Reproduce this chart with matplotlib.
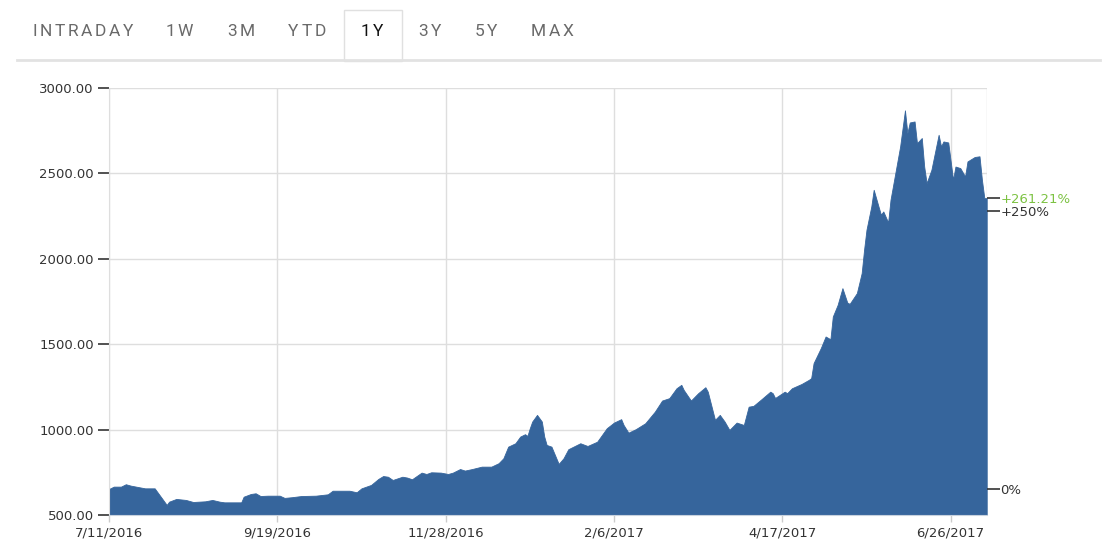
import pandas as pd
import numpy as np
import matplotlib.pyplot as plt
import matplotlib.dates as mdates
from matplotlib.ticker import FuncFormatter
from matplotlib.patches import Rectangle
from matplotlib.lines import Line2D

# -------------------------- data --------------------------
start_date = '2016-07-11'
day_offsets = [
    0, 2, 5, 7, 9, 12, 15, 19, 22, 24, 25, 28, 32, 35, 40, 43, 46, 48, 55, 56,
    59, 61, 63, 66, 71, 73, 76, 80, 86, 91, 93, 100, 103, 105, 109, 112, 114, 116,
    118, 122, 124, 126, 130, 132, 134, 138, 141, 143, 146, 148, 151, 155, 159, 162,
    164, 166, 169, 171, 173, 174, 175, 176, 178, 180, 181, 182, 184, 187, 189, 191,
    196, 199, 203, 207, 210, 213, 214, 216, 219, 223, 227, 230, 233, 236, 238, 239,
    242, 245, 248, 249, 252, 254, 256, 258, 261, 264, 266, 268, 271, 275, 276, 277,
    281, 282, 284, 288, 291, 292, 293, 296, 298, 300, 301, 303, 305, 307, 308, 311,
    313, 314, 315, 317, 318, 320, 321, 322, 324, 325, 327, 329, 331, 332, 333, 335,
    336, 338, 339, 340, 342, 345, 346, 347, 349, 351, 352, 354, 356, 357, 360, 362,
    363, 364, 365,
]
prices = [
    652, 666, 666, 680, 672, 664, 656, 656, 598, 559, 578, 594, 588, 576, 580, 588,
    578, 574, 574, 607, 623, 627, 611, 613, 613, 600, 604, 611, 613, 621, 642, 642,
    633, 656, 676, 711, 728, 724, 705, 724, 719, 709, 748, 740, 750, 748, 740, 748,
    769, 760, 769, 783, 783, 803, 832, 900, 920, 959, 973, 963, 1008, 1047, 1086,
    1047, 959, 910, 900, 799, 832, 885, 920, 904, 929, 1008, 1041, 1061, 1027, 982,
    1002, 1037, 1105, 1170, 1184, 1242, 1262, 1232, 1170, 1213, 1248, 1222, 1057,
    1086, 1047, 998, 1041, 1027, 1134, 1139, 1174, 1222, 1213, 1185, 1222, 1213,
    1242, 1267, 1291, 1301, 1389, 1477, 1545, 1529, 1662, 1730, 1828, 1744, 1736,
    1799, 1916, 2053, 2170, 2306, 2404, 2306, 2258, 2277, 2213, 2346, 2502, 2658,
    2869, 2736, 2798, 2804, 2677, 2707, 2540, 2443, 2521, 2726, 2658, 2687, 2681,
    2463, 2540, 2531, 2482, 2570, 2596, 2600, 2463, 2355, 2355,
]
gain_pct = 261.21
pct_ticks = [0, 250]
y_ticks = [500, 1000, 1500, 2000, 2500, 3000]
x_tick_dates = ['2016-07-11', '2016-09-19', '2016-11-28', '2017-02-06', '2017-04-17', '2017-06-26']
tabs = ['INTRADAY', '1W', '3M', 'YTD', '1Y', '3Y', '5Y', 'MAX']
selected_tab = '1Y'

dates = pd.Timestamp(start_date) + pd.to_timedelta(day_offsets, unit='D')
base = prices[-1] / (1 + gain_pct / 100)   # price the percent scale starts from

# -------------------------- figure --------------------------
fill_color = '#36659c'
grid_color = '#dedede'
text_color = '#333333'

fig = plt.figure(figsize=(11.2, 5.6), dpi=100)
ax = fig.add_axes([0.0973, 0.0804, 0.7837, 0.7625])

ax.fill_between(dates, prices, 500, color=fill_color, linewidth=0.6,
                edgecolor=fill_color, zorder=2)

ax.set_ylim(500, 3000)
ax.set_xlim(dates[0], dates[-1])
ax.set_yticks(y_ticks)
ax.yaxis.set_major_formatter(FuncFormatter(lambda v, p: f'{v:.2f}'))
ax.set_xticks(pd.to_datetime(x_tick_dates))
ax.xaxis.set_major_formatter(FuncFormatter(
    lambda v, p: (lambda d: f'{d.month}/{d.day}/{d.year}')(mdates.num2date(v))))

ax.grid(True, color=grid_color, linewidth=1, zorder=0)
ax.set_axisbelow(True)
for side in ['top', 'right']:
    ax.spines[side].set_visible(False)
ax.spines['left'].set_color(grid_color)
ax.spines['bottom'].set_color('#c8d2de')
ax.tick_params(axis='y', length=8, width=1.2, color=text_color,
               labelsize=9.5, labelcolor=text_color, pad=3)
ax.tick_params(axis='x', length=5, width=1, color='#cccccc',
               labelsize=9.5, labelcolor=text_color, pad=3)

# right edge line
ax.axvline(dates[-1], color=grid_color, linewidth=1, zorder=1)

# percent axis on the right
ax2 = ax.twinx()
ax2.set_ylim((500 / base - 1) * 100, (3000 / base - 1) * 100)
ax2.set_yticks(pct_ticks + [gain_pct])
ax2.set_yticklabels([f'{t}%' if t == 0 else f'+{t}%' for t in pct_ticks] + [f'+{gain_pct:.2f}%'])
ax2.tick_params(axis='y', length=9, width=1.2, color=text_color,
                labelsize=9.5, labelcolor=text_color, pad=1)
ax2.get_yticklabels()[2].set_color('#7cc242')
for side in ['top', 'right', 'left', 'bottom']:
    ax2.spines[side].set_visible(False)

# -------------------------- tab bar --------------------------
tab_x = [83, 179, 241, 307, 372, 430, 486, 552]
W, H = 1120, 560
fig.add_artist(Line2D([17 / W, 1100 / W], [1 - 60 / H, 1 - 60 / H],
                      color='#e2e2e2', linewidth=2))
fig.add_artist(Rectangle((344 / W, 1 - 61 / H), 58 / W, 51 / H,
                         facecolor='white', edgecolor='#e0e0e0', linewidth=1))

# letter-spaced tab labels, one glyph at a time
renderer = fig.canvas.get_renderer()
tracking = 2.6
for name, xc in zip(tabs, tab_x):
    col = '#111111' if name == selected_tab else '#6a6a6a'
    glyphs = [fig.text(0, 1 - 31 / H, ch, ha='left', va='center', fontsize=12.5,
                       family='Roboto', color=col) for ch in name]
    widths = [g.get_window_extent(renderer).width for g in glyphs]
    total = sum(widths) + tracking * (len(name) - 1)
    x = xc - total / 2
    for g, w in zip(glyphs, widths):
        g.set_x(x / W)
        x += w + tracking

fig.savefig('out.png', dpi=100, facecolor='white')
